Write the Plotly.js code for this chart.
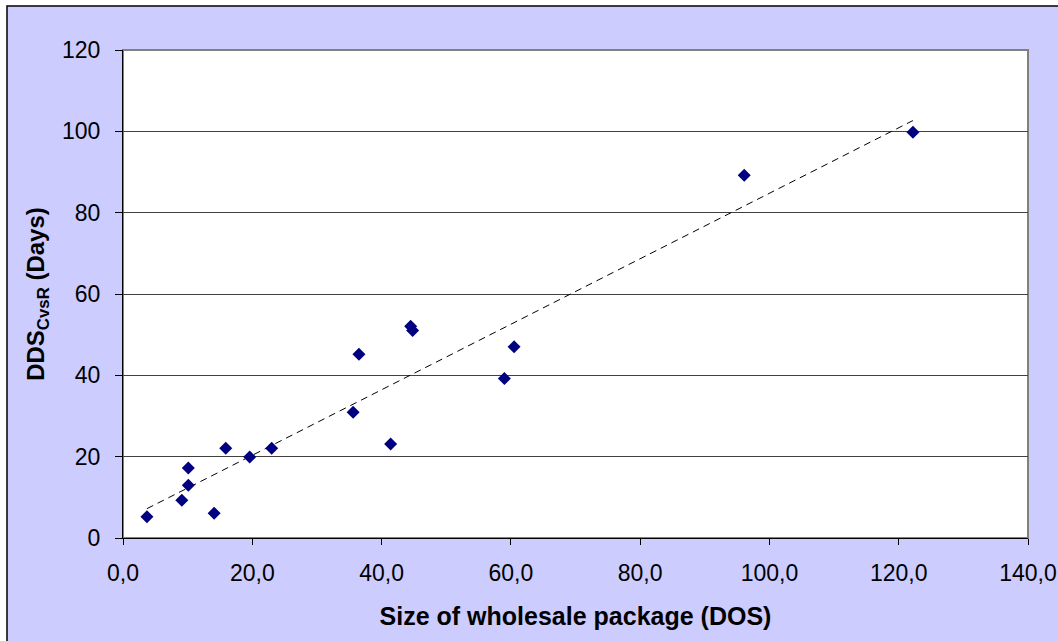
<!DOCTYPE html>
<html>
<head>
<meta charset="utf-8">
<script src="https://cdn.plot.ly/plotly-3.0.1.min.js"></script>
<style>
html,body{margin:0;padding:0;background:#ffffff;}
#chart{width:1058px;height:641px;}
</style>
</head>
<body>
<div id="chart"></div>
<script>
// Data
var packageSize = [3.7, 9.1, 10.1, 10.1, 14.1, 15.9, 19.6, 23.0, 35.6, 36.5, 41.4, 44.5, 44.8, 59.0, 60.5, 96.1, 122.2];
var ddsCvsR     = [5.2, 9.3, 13.0, 17.2, 6.1, 22.1, 19.9, 22.1, 30.9, 45.2, 23.1, 52.1, 51.0, 39.2, 47.0, 89.2, 99.8];
var xTicks = [0, 20, 40, 60, 80, 100, 120, 140];
var yTicks = [0, 20, 40, 60, 80, 100, 120];

// Linear least-squares trendline computed from the data
var n = packageSize.length, sx = 0, sy = 0, sxx = 0, sxy = 0;
for (var i = 0; i < n; i++) {
  sx += packageSize[i]; sy += ddsCvsR[i];
  sxx += packageSize[i] * packageSize[i]; sxy += packageSize[i] * ddsCvsR[i];
}
var slope = (n * sxy - sx * sy) / (n * sxx - sx * sx);
var intercept = (sy - slope * sx) / n;
var xMin = Math.min.apply(null, packageSize), xMax = Math.max.apply(null, packageSize);
var trendX = [xMin, xMax];
var trendY = [intercept + slope * xMin, intercept + slope * xMax];

var W = 1058, H = 641;
var m = {l: 123, r: 30, t: 50, b: 103};
var pw = W - m.l - m.r, ph = H - m.t - m.b;
function px(x) { return (x - m.l) / pw; }
function py(y) { return (H - m.b - y) / ph; }

var font = 'Liberation Sans, Arial, sans-serif';

var traces = [
  {
    x: trendX, y: trendY, type: 'scatter', mode: 'lines',
    line: {color: '#000000', width: 1, dash: '7px,5px'},
    hoverinfo: 'skip', showlegend: false
  },
  {
    x: packageSize, y: ddsCvsR, type: 'scatter', mode: 'markers',
    marker: {symbol: 'diamond', size: 10, color: '#000080', line: {width: 0}},
    showlegend: false
  }
];

var layout = {
  width: W, height: H,
  margin: m,
  paper_bgcolor: '#ffffff',
  plot_bgcolor: '#ffffff',
  separators: ', ',
  font: {family: font, color: '#000000', size: 23},
  showlegend: false,
  xaxis: {
    range: [0, 140], tickvals: xTicks, tickformat: '.1f',
    showgrid: false, zeroline: false,
    showline: true, linecolor: '#000000', linewidth: 1,
    ticks: 'outside', ticklen: 6, tickcolor: '#000000', tickwidth: 1,
    ticklabelstandoff: 8,
    tickfont: {family: font, size: 23, color: '#000000'},
    title: {text: '<b>Size of wholesale package (DOS)</b>', font: {family: font, size: 25, color: '#000000'}, standoff: 22}
  },
  yaxis: {
    range: [0, 120], tickvals: yTicks,
    showgrid: true, gridcolor: '#404040', gridwidth: 1,
    zeroline: false,
    showline: true, linecolor: '#000000', linewidth: 1,
    ticks: 'outside', ticklen: 7, tickcolor: '#000000', tickwidth: 1,
    ticklabelstandoff: 10,
    tickfont: {family: font, size: 23, color: '#000000'},
    title: {text: '<b>DDS<sub>CvsR</sub> (Days)</b>', font: {family: font, size: 24, color: '#000000'}, standoff: 10}
  },
  shapes: [
    {type: 'rect', xref: 'paper', yref: 'paper', layer: 'below',
     x0: px(7), x1: px(W + 5), y0: py(H + 5), y1: py(6),
     fillcolor: '#CCCCFF', line: {color: '#000000', width: 1.5}},
    {type: 'rect', xref: 'paper', yref: 'paper', layer: 'below',
     x0: 0, x1: 1, y0: 0, y1: 1,
     fillcolor: '#ffffff', line: {color: '#808080', width: 2}}
  ]
};

Plotly.newPlot('chart', traces, layout, {staticPlot: true, displayModeBar: false});
</script>
</body>
</html>
